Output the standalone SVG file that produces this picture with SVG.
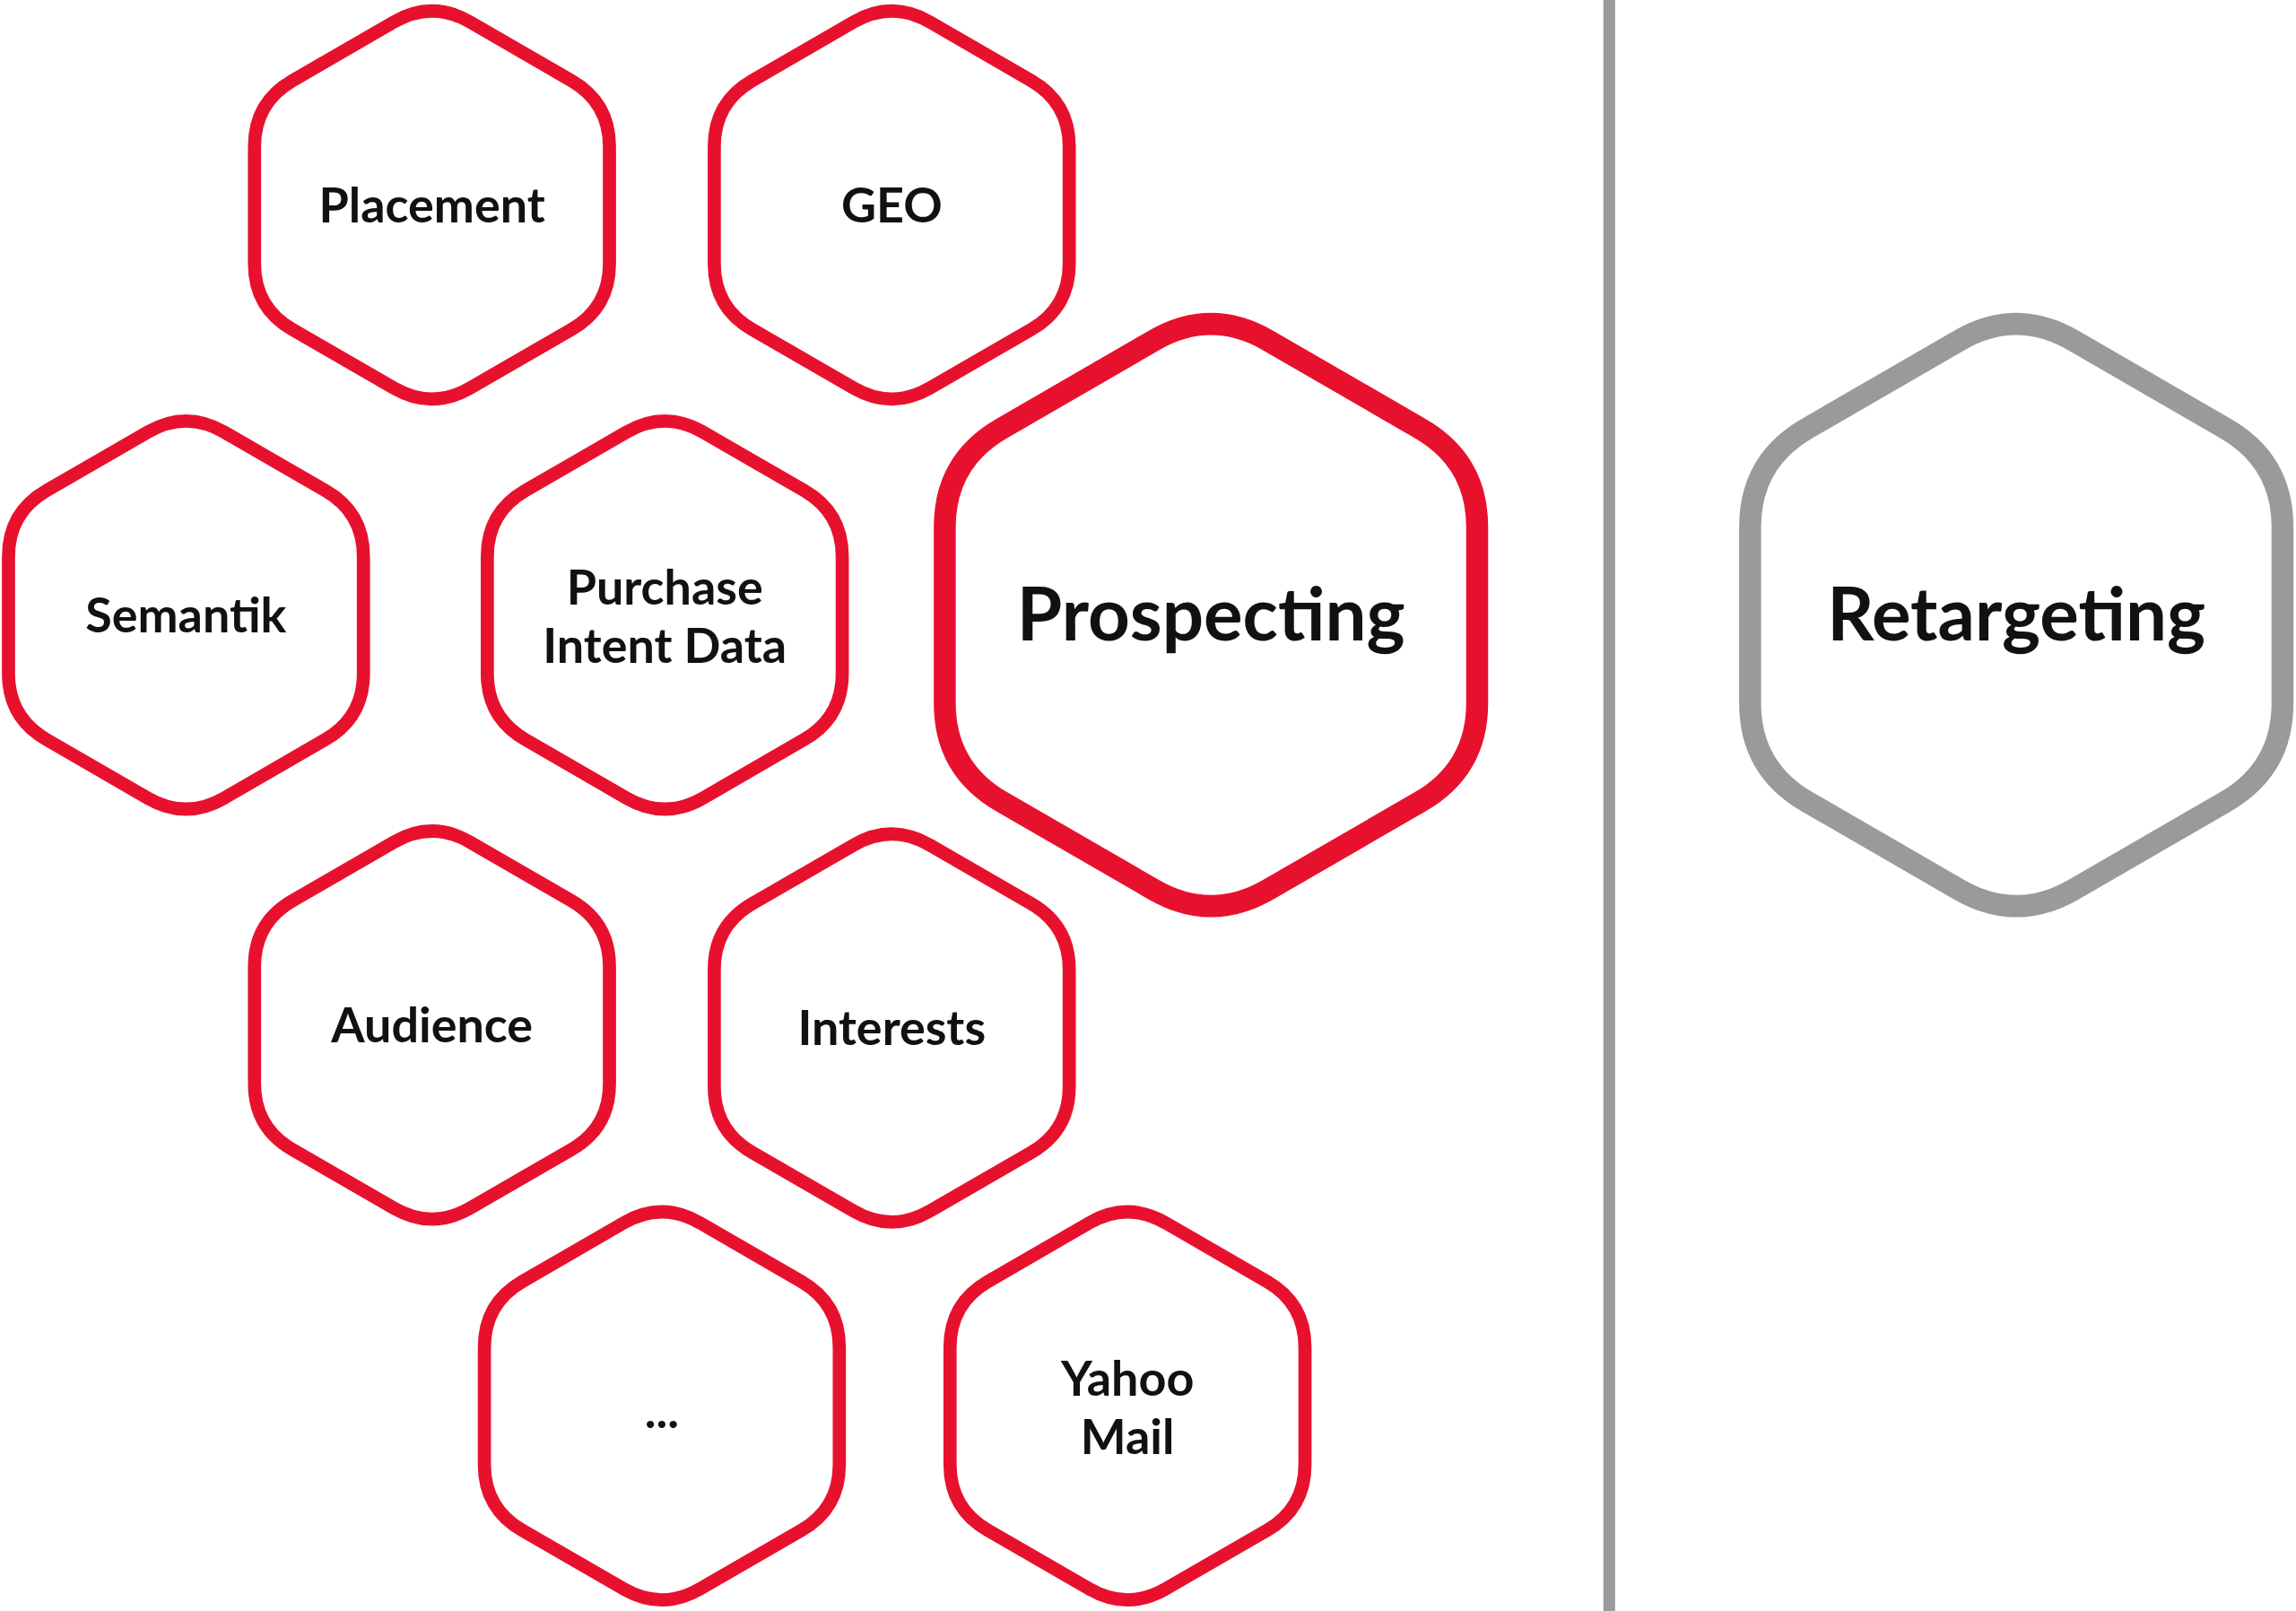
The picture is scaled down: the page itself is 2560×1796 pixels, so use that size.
<svg xmlns="http://www.w3.org/2000/svg" width="2560" height="1796" viewBox="0 0 2560 1796">
<style>
.h{fill:#fff;stroke:#e8112d;stroke-width:9}
.b{fill:#fff;stroke:#e8112d;stroke-width:10}
.g{fill:#fff;stroke:#999a9c;stroke-width:10}
text{font-family:Lato,"Open Sans","Liberation Sans",sans-serif;font-weight:bold;fill:#111;text-anchor:middle;dominant-baseline:central}
.s{font-size:33px}
.l{font-size:50px}
</style>
<defs>
<path id="hex" d="M26,-125 L95.2,-85 Q121.2,-70 121.2,-40 L121.2,40 Q121.2,70 95.2,85 L26,125 Q0,140 -26,125 L-95.2,85 Q-121.2,70 -121.2,40 L-121.2,-40 Q-121.2,-70 -95.2,-85 L-26,-125 Q0,-140 26,-125 Z"/>
</defs>
<rect width="2560" height="1796" fill="#fff"/>
<g transform="scale(1.63265)">
<g id="connectors"><line x1="1099" y1="0" x2="1099" y2="1100" stroke="#999a9c" stroke-width="8"/></g>
<g id="placement"><use href="#hex" class="h" transform="translate(295,140)"/><text class="s" x="295" y="139">Placement</text></g>
<g id="geo"><use href="#hex" class="h" transform="translate(609,140)"/><text class="s" x="609" y="139">GEO</text></g>
<g id="semantik"><use href="#hex" class="h" transform="translate(127,420)"/><text class="s" x="127" y="419">Semantik</text></g>
<g id="purchase"><use href="#hex" class="h" transform="translate(454,420)"/><text class="s" x="454" y="400">Purchase</text><text class="s" x="454" y="440">Intent Data</text></g>
<g id="prospecting"><use href="#hex" class="b" transform="translate(827,420) scale(1.5)"/><text class="l" x="827" y="418">Prospecting</text></g>
<g id="retargeting"><use href="#hex" class="g" transform="translate(1377,420) scale(1.5)"/><text class="l" x="1377" y="418">Retargeting</text></g>
<g id="audience"><use href="#hex" class="h" transform="translate(295,700)"/><text class="s" x="295" y="699">Audience</text></g>
<g id="interests"><use href="#hex" class="h" transform="translate(609,702)"/><text class="s" x="609" y="701">Interests</text></g>
<g id="ellipsis"><use href="#hex" class="h" transform="translate(452,960)"/><text class="s" x="452" y="962">...</text></g>
<g id="yahoo"><use href="#hex" class="h" transform="translate(770,960)"/><text class="s" x="770" y="940">Yahoo</text><text class="s" x="770" y="980">Mail</text></g>
</g>
</svg>
